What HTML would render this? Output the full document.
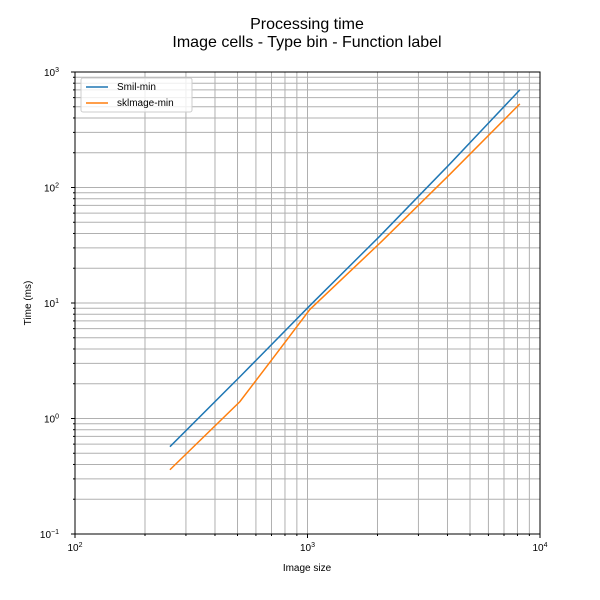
<!DOCTYPE html>
<html><head><meta charset="utf-8"><style>body{margin:0;background:#fff}svg{display:block;font-family:"Liberation Sans",sans-serif}</style></head>
<body>
<svg id="chart" width="600" height="600"></svg>
<script>
const xSmil = [256, 512, 1024, 2048, 4096, 8192];
const ySmil = [0.57, 2.3, 9.5, 38, 160, 700];
const xSk = [256, 512, 724, 1024, 2048, 4096, 8192];
const ySk = [0.36, 1.4, 3.5, 8.8, 33, 130, 530];
const xTickExp = [2, 3, 4];
const yTickExp = [-1, 0, 1, 2, 3];

const L=75,R=540,T=72,B=534;
const sx=v=>L+(R-L)*(Math.log10(v)-2)/2;
const sy=v=>B-(B-T)*(Math.log10(v)+1)/4;
const svg=document.getElementById('chart');
const NS='http://www.w3.org/2000/svg';
function mk(tag,attrs,parent){const e=document.createElementNS(NS,tag);for(const k in attrs)e.setAttribute(k,attrs[k]);(parent||svg).appendChild(e);return e;}
function txt(x,y,s,size,anchor){const t=mk('text',{x:x,y:y,'font-size':size,'text-anchor':anchor||'middle',fill:'#000'});t.textContent=s;return t;}

const grid=mk('g',{stroke:'#b0b0b0','stroke-width':1});


for(let e=2;e<4;e++)for(let m=1;m<10;m++){const x=sx(m*Math.pow(10,e));mk('line',{x1:x,x2:x,y1:T,y2:B},grid);}
for(let e=-1;e<3;e++)for(let m=1;m<10;m++){const y=sy(m*Math.pow(10,e));mk('line',{x1:L,x2:R,y1:y,y2:y},grid);}

function series(xs,ys,color,name){
  const p=mk('polyline',{points:xs.map((x,i)=>sx(x)+','+sy(ys[i])).join(' '),fill:'none',stroke:color,'stroke-width':1.5});
  
  
}
series(xSmil,ySmil,'#1f77b4','smil-min-line');
series(xSk,ySk,'#ff7f0e','sklmage-min-line');

mk('rect',{x:L,y:T,width:R-L,height:B-T,fill:'none',stroke:'#000','stroke-width':1});
xTickExp.forEach(e=>{const x=sx(Math.pow(10,e));mk('line',{x1:x,x2:x,y1:B,y2:B+4,stroke:'#000'});
  const t=txt(x,B+17,'10',10);const s=mk('tspan',{dy:-4,'font-size':7},t);s.textContent=e;
  });
for(let e=2;e<4;e++)for(let m=2;m<10;m++){const x=sx(m*Math.pow(10,e));mk('line',{x1:x,x2:x,y1:B,y2:B+2,stroke:'#000'});}
yTickExp.forEach(e=>{const y=sy(Math.pow(10,e));mk('line',{x1:L-4,x2:L,y1:y,y2:y,stroke:'#000'});
  const t=txt(L-16,y+4,'10',10,'end');const s=mk('tspan',{dy:-4,'font-size':7},t);s.textContent=e<0?'\u22121':e;
  });
for(let e=-1;e<3;e++)for(let m=2;m<10;m++){const y=sy(m*Math.pow(10,e));mk('line',{x1:L-2,x2:L,y1:y,y2:y,stroke:'#000'});}

let t=txt(307,571,'Image size',10);
t=txt(0,0,'Time (ms)',10);t.setAttribute('transform','translate(31,303) rotate(-90)');
t=txt(307,29,'Processing time',16);
t=txt(307,47,'Image cells - Type bin - Function label',16);

const lg=mk('g',{});


mk('rect',{x:81,y:78,width:111,height:34,fill:'#fff','fill-opacity':0.8,stroke:'#ccc',rx:2},lg);
mk('line',{x1:86,x2:108,y1:87,y2:87,stroke:'#1f77b4','stroke-width':1.5},lg);
mk('line',{x1:86,x2:108,y1:103,y2:103,stroke:'#ff7f0e','stroke-width':1.5},lg);
t=txt(117,90,'Smil-min',10,'start');lg.appendChild(t);
t=txt(117,106,'sklmage-min',10,'start');lg.appendChild(t);
</script>
</body></html>
